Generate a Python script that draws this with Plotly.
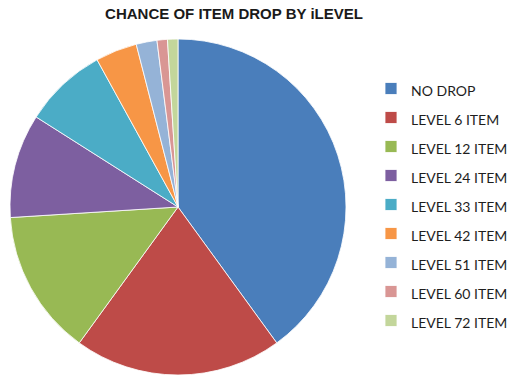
import plotly.graph_objects as go

categories = ["NO DROP", "LEVEL 6 ITEM", "LEVEL 12 ITEM", "LEVEL 24 ITEM",
              "LEVEL 33 ITEM", "LEVEL 42 ITEM", "LEVEL 51 ITEM", "LEVEL 60 ITEM",
              "LEVEL 72 ITEM"]
values = [40, 20, 14, 10, 8, 4, 2, 1, 1]
colors = ["#4A7EBB", "#BE4B48", "#98B954", "#7D5FA0", "#4BACC6",
          "#F79646", "#95B3D7", "#D99694", "#C3D69B"]

legend_labels = [f"<span style='font-size:14px'>{c}</span>" for c in categories]

fig = go.Figure(go.Pie(
    labels=legend_labels,
    values=values,
    sort=False,
    direction="clockwise",
    rotation=0,
    textinfo="none",
    hovertemplate="%{label}: %{value}<extra></extra>",
    marker=dict(colors=colors, line=dict(color="rgba(255,255,255,0.8)", width=1)),
    domain=dict(x=[10/508, 346/508], y=[0, 336/375]),
))

fig.update_layout(
    width=508, height=375,
    margin=dict(l=0, r=0, t=0, b=0, autoexpand=False),
    paper_bgcolor="white",
    title=dict(text="<b>CHANCE OF ITEM DROP BY iLEVEL</b>",
               x=234/508, xanchor="center", xref="container",
               y=1 - 14/375, yanchor="middle", yref="container",
               font=dict(family="Liberation Sans, Arial", size=15, color="#1a1a1a")),
    legend=dict(x=371/508, xanchor="left", y=1 - 69/375, yanchor="top",
                font=dict(family="Lato", size=20, color="#1e1e1e"),
                bgcolor="rgba(0,0,0,0)"),
)

fig.write_html("out.html")
